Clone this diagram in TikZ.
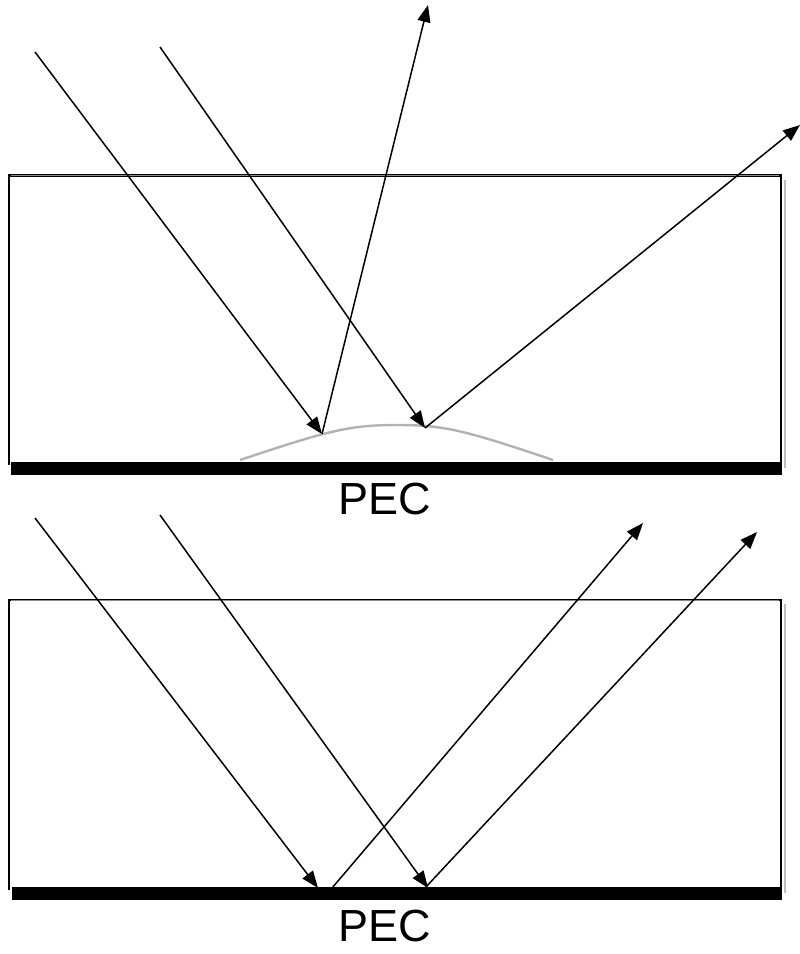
\documentclass[tikz,border=0pt]{standalone}
\usepackage{fontspec}
\setmainfont{Liberation Sans}
\usetikzlibrary{arrows.meta}
\tikzset{
  ray/.style={line width=1.5pt, black},
  arr/.style={ray, -{Triangle[length=17pt,width=13pt]}},
  boxline/.style={line width=2.6pt, black},
  pecbar/.style={fill=black, draw=none},
  shadow/.style={line width=2.2pt, black!25},
  bump/.style={line width=2.4pt, black!30},
  lbl/.style={font=\fontsize{45}{54}\selectfont, inner sep=0pt}
}
\begin{document}
\begin{tikzpicture}[x=1pt,y=-1pt]
\useasboundingbox (0,0) rectangle (800,954);
% ---------- top panel ----------
\draw[shadow] (785,180) -- (785,468);
\draw[boxline] (9,465) -- (9,175.5) -- (781,175.5) -- (781,462);
\draw[line width=0.9pt, black!45] (11,175.5) -- (779,175.5);
\fill[pecbar] (11,462) rectangle (782,475);
\draw[bump] (240,460) .. controls (330,430) and (350,425) .. (397,425)
  .. controls (444,425) and (464,430) .. (553,460);
\coordinate (a1) at (35,52);
\coordinate (a2) at (160,47);
\coordinate (h1) at (322,434);
\coordinate (h2) at (425,428);
\coordinate (r1) at (428,5);
\coordinate (r2) at (800,125);
\draw[arr] (a1) -- (h1);
\draw[arr] (a2) -- (h2);
\draw[arr] (h1) -- (r1);
\draw[arr] (h2) -- (r2);
\node[lbl] (pec1) at (385,499) {PEC};
% ---------- bottom panel ----------
\draw[shadow] (785,604) -- (785,893);
\draw[boxline] (9,890) -- (9,600) -- (781,600) -- (781,887);
\draw[line width=0.9pt, black!45] (11,600) -- (779,600);
\fill[pecbar] (12,887) rectangle (782,900);
\coordinate (b1) at (35,518);
\coordinate (b2) at (160,515);
\coordinate (g1) at (318,888);
\coordinate (g2) at (428,888);
\coordinate (s1) at (332,888);
\coordinate (s2) at (425,888);
\coordinate (t1) at (643,523);
\coordinate (t2) at (757,532);
\draw[arr] (b1) -- (g1);
\draw[arr] (b2) -- (g2);
\draw[arr] (s1) -- (t1);
\draw[arr] (s2) -- (t2);
\node[lbl] (pec2) at (385,926) {PEC};
\end{tikzpicture}
\end{document}
